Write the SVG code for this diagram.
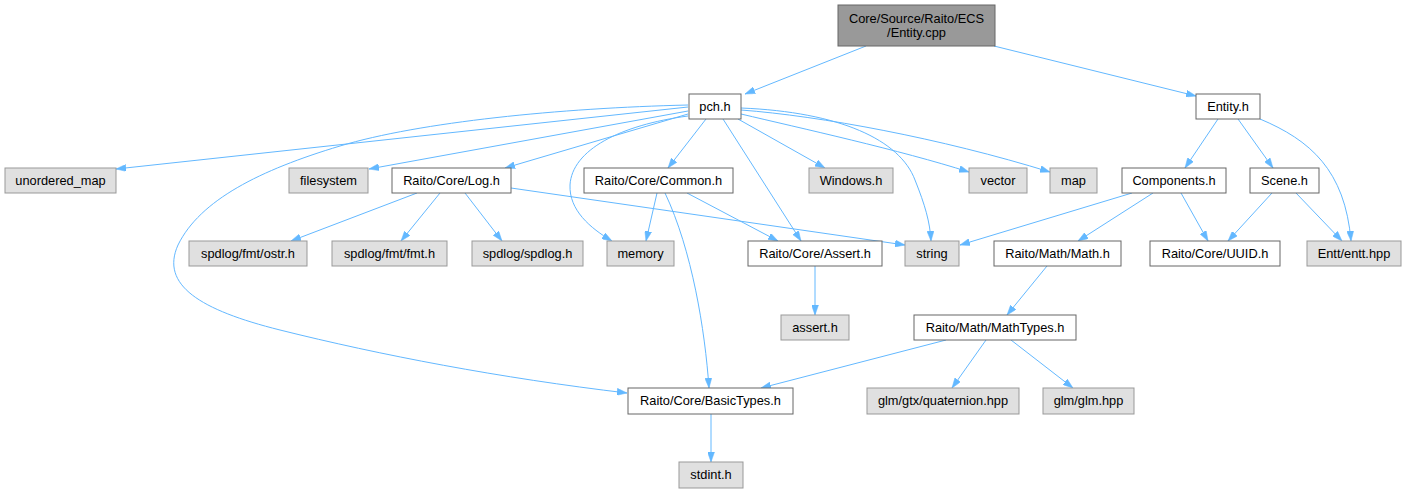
<svg xmlns="http://www.w3.org/2000/svg" width="1406" height="493" viewBox="0 0 1406 493">
<style>
.n rect{fill:#ffffff;stroke:#666666;stroke-width:1}
.g rect{fill:#e0e0e0;stroke:#999999;stroke-width:1}
.r rect{fill:#999999;stroke:#666666;stroke-width:1}
text{font-family:"Liberation Sans",Arial,sans-serif;font-size:12.8px;fill:#000000;text-anchor:middle}
#edges path{fill:none;stroke:#63b8ff;stroke-width:1;marker-end:url(#ah)}
</style>
<defs>
<marker id="ah" viewBox="0 0 10 7" markerWidth="10" markerHeight="7" refX="10" refY="3.5" orient="auto" markerUnits="userSpaceOnUse">
<path d="M0,0 L10,3.5 L0,7 z" fill="#63b8ff" stroke="#63b8ff" stroke-width="0.5"/>
</marker>
</defs>
<rect width="1406" height="493" fill="#ffffff"/>
<g id="edges">
<path d="M866,46 L745,94"/>
<path d="M994,46 L1196,96"/>
<path d="M688,107 L116,169"/>
<path d="M688,111 L369,169"/>
<path d="M688,114 L505,168"/>
<path d="M688,105 C560,108 420,122 340,146 C260,170 200,200 178,245 C160,285 200,310 280,330 C380,355 500,378 627,393"/>
<path d="M688,116 C620,125 572,150 570,185 C569,210 590,228 612,241"/>
<path d="M706,119 L668,168"/>
<path d="M723,119 L801,241"/>
<path d="M738,119 L825,168"/>
<path d="M741,108 C840,112 900,140 915,180 C925,205 930,222 931,241"/>
<path d="M741,114 C800,128 900,150 969,172"/>
<path d="M741,110 C820,116 940,138 1050,172"/>
<path d="M417,193 L291,241"/>
<path d="M440,193 L401,241"/>
<path d="M465,193 L502,241"/>
<path d="M511,188 L905,245"/>
<path d="M657,193 L646,241"/>
<path d="M687,193 L778,241"/>
<path d="M665,193 C692,250 705,330 709,388"/>
<path d="M815,266 L815,315"/>
<path d="M1218,119 L1185,168"/>
<path d="M1238,119 L1273,168"/>
<path d="M1260,119 C1310,140 1345,170 1351,241"/>
<path d="M1132,193 L960,245"/>
<path d="M1153,193 L1078,241"/>
<path d="M1181,193 L1208,241"/>
<path d="M1272,193 L1228,241"/>
<path d="M1296,193 L1342,241"/>
<path d="M1047,266 L1007,315"/>
<path d="M946,340 L761,388"/>
<path d="M986,340 L952,388"/>
<path d="M1011,340 L1073,388"/>
<path d="M711,414 L711,462"/>
</g>
<g id="node-root" class="r"><rect x="838" y="5" width="157" height="41"/><text x="916.5" y="22.5">Core/Source/Raito/ECS</text><text x="916.5" y="36.5">/Entity.cpp</text></g>
<g id="node-pch" class="n"><rect x="689" y="94" width="52" height="25"/><text x="715" y="110.5">pch.h</text></g>
<g id="node-unordered_map" class="g"><rect x="5" y="168" width="111" height="25"/><text x="60.5" y="184.5">unordered_map</text></g>
<g id="node-filesystem" class="g"><rect x="289" y="168" width="79" height="25"/><text x="328.5" y="184.5">filesystem</text></g>
<g id="node-log" class="n"><rect x="392" y="168" width="119" height="25"/><text x="451.5" y="184.5">Raito/Core/Log.h</text></g>
<g id="node-common" class="n"><rect x="584" y="168" width="149" height="25"/><text x="658.5" y="184.5">Raito/Core/Common.h</text></g>
<g id="node-windows" class="g"><rect x="809" y="168" width="84" height="25"/><text x="851" y="184.5">Windows.h</text></g>
<g id="node-vector" class="g"><rect x="969" y="168" width="58" height="25"/><text x="998" y="184.5">vector</text></g>
<g id="node-map" class="g"><rect x="1050" y="168" width="47" height="25"/><text x="1073.5" y="184.5">map</text></g>
<g id="node-entity-h" class="n"><rect x="1196" y="94" width="64" height="25"/><text x="1228" y="110.5">Entity.h</text></g>
<g id="node-components" class="n"><rect x="1122" y="168" width="104" height="25"/><text x="1174" y="184.5">Components.h</text></g>
<g id="node-scene" class="n"><rect x="1250" y="168" width="69" height="25"/><text x="1284.5" y="184.5">Scene.h</text></g>
<g id="node-ostr" class="g"><rect x="189" y="241" width="118" height="25"/><text x="248" y="257.5">spdlog/fmt/ostr.h</text></g>
<g id="node-fmt" class="g"><rect x="332" y="241" width="115" height="25"/><text x="389.5" y="257.5">spdlog/fmt/fmt.h</text></g>
<g id="node-spdlog" class="g"><rect x="472" y="241" width="111" height="25"/><text x="527.5" y="257.5">spdlog/spdlog.h</text></g>
<g id="node-memory" class="g"><rect x="607" y="241" width="67" height="25"/><text x="640.5" y="257.5">memory</text></g>
<g id="node-assert-core" class="n"><rect x="748" y="241" width="134" height="25"/><text x="815" y="257.5">Raito/Core/Assert.h</text></g>
<g id="node-string" class="g"><rect x="905" y="241" width="54" height="25"/><text x="932" y="257.5">string</text></g>
<g id="node-math" class="n"><rect x="994" y="241" width="127" height="25"/><text x="1057.5" y="257.5">Raito/Math/Math.h</text></g>
<g id="node-uuid" class="n"><rect x="1150" y="241" width="130" height="25"/><text x="1215" y="257.5">Raito/Core/UUID.h</text></g>
<g id="node-entt" class="g"><rect x="1307" y="241" width="94" height="25"/><text x="1354" y="257.5">Entt/entt.hpp</text></g>
<g id="node-assert-h" class="g"><rect x="781" y="315" width="68" height="25"/><text x="815" y="331.5">assert.h</text></g>
<g id="node-mathtypes" class="n"><rect x="914" y="315" width="162" height="25"/><text x="995" y="331.5">Raito/Math/MathTypes.h</text></g>
<g id="node-basictypes" class="n"><rect x="628" y="388" width="165" height="26"/><text x="710.5" y="405">Raito/Core/BasicTypes.h</text></g>
<g id="node-quaternion" class="g"><rect x="867" y="388" width="152" height="26"/><text x="943" y="405">glm/gtx/quaternion.hpp</text></g>
<g id="node-glm" class="g"><rect x="1043" y="388" width="91" height="26"/><text x="1088.5" y="405">glm/glm.hpp</text></g>
<g id="node-stdint" class="g"><rect x="679" y="462" width="64" height="26"/><text x="711" y="479">stdint.h</text></g>
</svg>
